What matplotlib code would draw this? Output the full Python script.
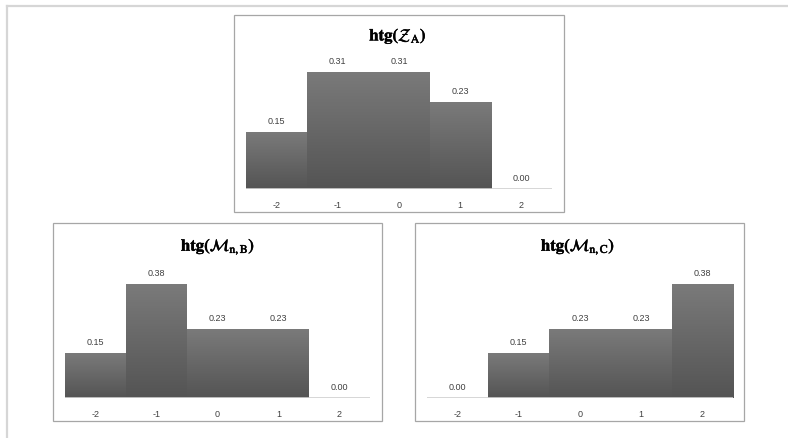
import numpy as np
import matplotlib.pyplot as plt
import matplotlib.patheffects as pe
from matplotlib.patches import Rectangle
from matplotlib.lines import Line2D
from matplotlib.colors import LinearSegmentedColormap

plt.rcParams['mathtext.fontset'] = 'stix'
plt.rcParams['font.family'] = ['Liberation Sans', 'DejaVu Sans']

categories = ['-2', '-1', '0', '1', '2']
htg_za = [0.15, 0.31, 0.31, 0.23, 0.00]
htg_mnb = [0.15, 0.38, 0.23, 0.23, 0.00]
htg_mnc = [0.00, 0.15, 0.23, 0.23, 0.38]

W, H = 788, 439
fig = plt.figure(figsize=(W / 100, H / 100), dpi=100)

# light grey sheet border on top and left
fig.add_artist(Line2D([7 / W, 7 / W], [0, 1 - 7 / H], color='#d6d6d6', lw=1.6))
fig.add_artist(Line2D([7 / W, 1], [1 - 7 / H, 1 - 7 / H], color='#d6d6d6', lw=1.6))

grad = LinearSegmentedColormap.from_list('bargrad', ['#545454', '#7a7a7a'])


def px_box(x0, y0, x1, y1):
    # pixel box (top-left origin) -> figure fraction rect
    return [x0 / W, 1 - y1 / H, (x1 - x0) / W, (y1 - y0) / H]


def panel(frame, plot, ymax, title, title_xy, values):
    fig.add_artist(Rectangle((frame[0], frame[1]), frame[2], frame[3],
                             transform=fig.transFigure, fill=False,
                             edgecolor='#a6a6a6', lw=0.9))
    ax = fig.add_axes(plot)
    x = np.arange(len(values))
    bars = ax.bar(x, values, width=1.0, color='none', edgecolor='none')
    g = np.linspace(0, 1, 100).reshape(-1, 1)
    for b in bars:
        h = b.get_height()
        if h <= 0:
            continue
        im = ax.imshow(g, cmap=grad, origin='lower', aspect='auto',
                       extent=[b.get_x(), b.get_x() + b.get_width(), 0, h],
                       zorder=2)
        im.set_clip_path(b)
    for xi, v in zip(x, values):
        ax.annotate(f'{v:.2f}', (xi, v), xytext=(0, 5),
                    textcoords='offset points', ha='center', va='bottom',
                    fontsize=6.5, color='#404040')
    ax.set_xlim(-0.5, len(values) - 0.5)
    ax.set_ylim(0, ymax)
    ax.axhline(0, color='#d0d0d0', lw=1.2, zorder=3)
    for s in ax.spines.values():
        s.set_visible(False)
    ax.set_yticks([])
    ax.set_xticks(x)
    ax.set_xticklabels(categories, fontsize=6.5, color='#404040')
    ax.tick_params(axis='x', length=0, pad=8)
    ax.patch.set_alpha(0)
    fig.text(title_xy[0] / W, 1 - title_xy[1] / H, title, ha='center',
             va='center', fontsize=12,
             path_effects=[pe.withStroke(linewidth=0.35, foreground='black')])


panel(px_box(234, 16, 564, 213), px_box(246, 39, 552, 190), 0.4,
      r'$\mathbf{htg(}\mathcal{Z}_{\mathrm{A}}\mathbf{)}$', (398, 37), htg_za)
panel(px_box(53, 224, 382, 422), px_box(65, 264, 370, 399), 0.45,
      r'$\mathbf{htg(}\mathcal{M}_{\mathrm{n,B}}\mathbf{)}$', (218, 248), htg_mnb)
panel(px_box(415, 224, 744, 422), px_box(427, 264, 733, 399), 0.45,
      r'$\mathbf{htg(}\mathcal{M}_{\mathrm{n,C}}\mathbf{)}$', (578, 248), htg_mnc)

fig.savefig('out.png', dpi=100)
